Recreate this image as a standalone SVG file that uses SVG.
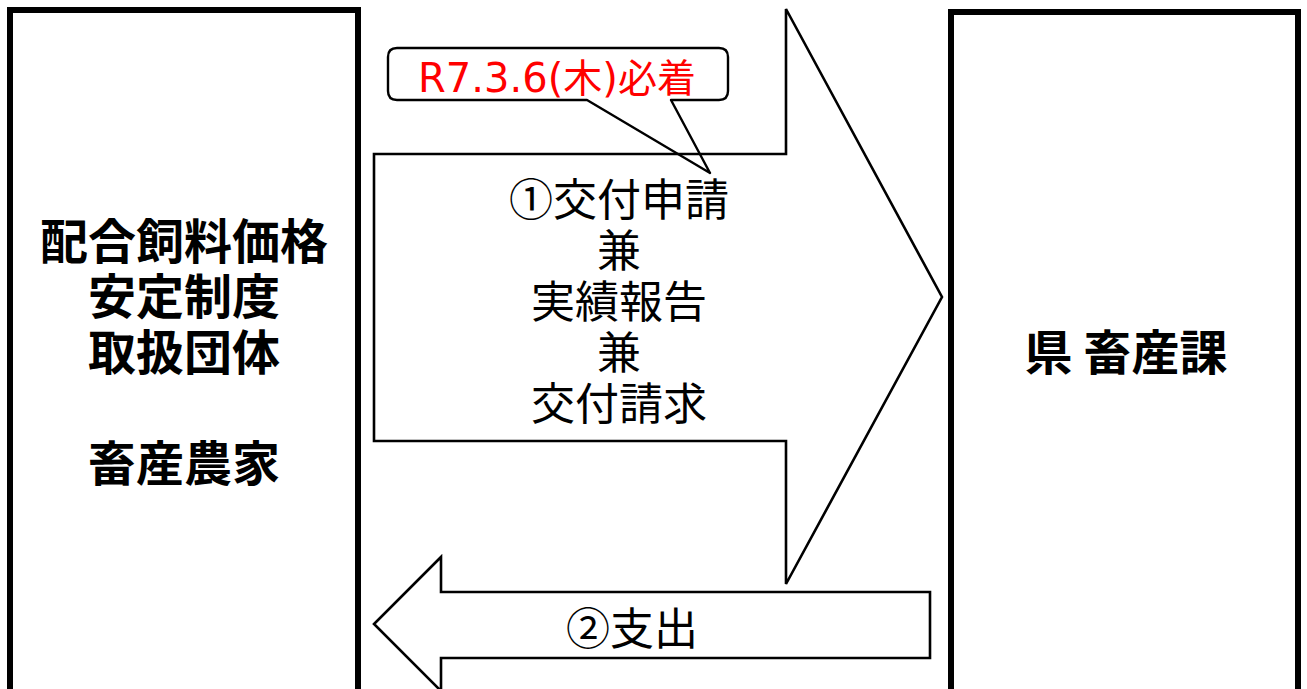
<svg xmlns="http://www.w3.org/2000/svg" width="1307" height="689" viewBox="0 0 1307 689">
  <style>
    .box { fill: #ffffff; stroke: #000000; stroke-width: 6; }
    .arrow { fill: #ffffff; stroke: #000000; stroke-width: 2.6; stroke-linejoin: miter; }
    .callout { fill: none; stroke: #000000; stroke-width: 2.4; stroke-linejoin: round; }
    .t { font-family: "Noto Sans CJK JP", "Noto Sans", sans-serif; text-anchor: middle; fill: #000000; }
    .bold { font-weight: bold; font-size: 48px; }
    .mid { font-size: 44px; }
    .red { font-family: "DejaVu Sans", "Noto Sans CJK JP", sans-serif; font-size: 40px; fill: #ff0000; text-anchor: middle; }
    .kj { font-family: "Noto Sans CJK JP", sans-serif; font-size: 39px; }
  </style>
  <rect x="0" y="0" width="1307" height="689" fill="#ffffff"/>

  <g id="node-left">
    <rect class="box" x="10" y="10" width="348" height="700"/>
    <text class="t bold" x="184" y="259">配合飼料価格</text>
    <text class="t bold" x="184" y="314">安定制度</text>
    <text class="t bold" x="184" y="370">取扱団体</text>
    <text class="t bold" x="184" y="481">畜産農家</text>
  </g>

  <g id="node-right">
    <rect class="box" x="951" y="12" width="347" height="700"/>
    <text class="t bold" x="1126" y="370">県 畜産課</text>
  </g>

  <g id="connectors">
    <g id="arrow-apply">
      <polygon class="arrow" points="374,154 786,154 786,9 942,297 786,584 786,441 374,441"/>
      <text class="t mid" x="619" y="216">①交付申請</text>
      <text class="t mid" x="619" y="267">兼</text>
      <text class="t mid" x="619" y="318">実績報告</text>
      <text class="t mid" x="619" y="369">兼</text>
      <text class="t mid" x="619" y="420">交付請求</text>
    </g>
    <g id="arrow-pay">
      <polygon class="arrow" points="930,592 441,592 441,557 374,624 441,691 441,658 930,658"/>
      <text class="t mid" x="632" y="645">②支出</text>
    </g>
  </g>

  <g id="callout-deadline">
    <path class="callout" d="M 397,48 H 719 Q 728,48 728,57 V 91 Q 728,100 719,100 H 671 L 710,173 L 587,100 H 397 Q 388,100 388,91 V 57 Q 388,48 397,48 Z"/>
    <text class="red" x="557" y="92">R7.3.6(<tspan class="kj">木</tspan>)<tspan class="kj">必着</tspan></text>
  </g>
</svg>
